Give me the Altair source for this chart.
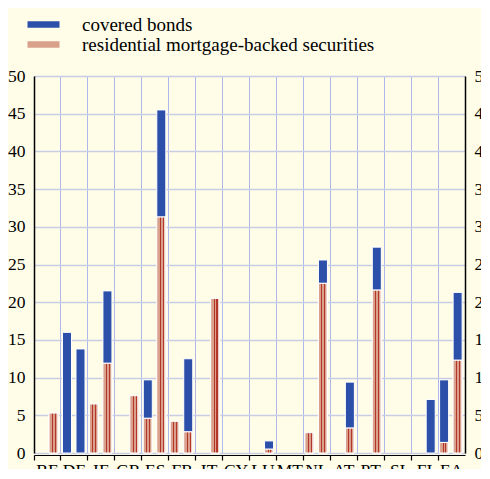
import altair as alt
import pandas as pd

countries = ["BE", "DE", "IE", "GR", "ES", "FR", "IT", "CY", "LU", "MT", "NL", "AT", "PT", "SI", "FI", "EA"]
slots = ["1", "2"]
rmbs_1 = [0, 0, 6.5, 0, 4.6, 4.2, 0, 0, 0, 0, 2.7, 0, 0, 0, 0, 1.4]
cb_1 = [0, 16.0, 0, 0, 5.1, 0, 0, 0, 0, 0, 0, 0, 0, 0, 0, 8.3]
rmbs_2 = [5.3, 0, 11.9, 7.6, 31.3, 2.8, 20.5, 0, 0.5, 0, 22.5, 3.3, 21.6, 0, 0, 12.3]
cb_2 = [0, 13.8, 9.6, 0, 14.2, 9.7, 0, 0, 1.1, 0, 3.1, 6.1, 5.7, 0, 7.1, 9.0]
series_names = ["covered bonds", "residential mortgage-backed securities"]
y_ticks = [0, 5, 10, 15, 20, 25, 30, 35, 40, 45, 50]

rows = []
for i, c in enumerate(countries):
    for slot, rm, cb in (("1", rmbs_1[i], cb_1[i]), ("2", rmbs_2[i], cb_2[i])):
        if rm > 0:
            rows.append({"country": c, "slot": slot, "series": series_names[1], "value": rm, "ord": 0})
        if cb > 0:
            rows.append({"country": c, "slot": slot, "series": series_names[0], "value": cb, "ord": 1})
df = pd.DataFrame(rows)

BLUE = "#2c4fa9"
SALMON = "#d9a08c"
STRIPE = "#b4362a"
LIGHT = "#ecd0c6"
FONT = "Liberation Serif, Times New Roman, Times, DejaVu Serif, serif"

gradient = {
    "gradient": "linear", "x1": 0, "y1": 0, "x2": 1, "y2": 0,
    "stops": [
        {"offset": 0.0, "color": SALMON},
        {"offset": 0.33, "color": SALMON},
        {"offset": 0.33, "color": STRIPE},
        {"offset": 0.45, "color": STRIPE},
        {"offset": 0.45, "color": SALMON},
        {"offset": 0.64, "color": SALMON},
        {"offset": 0.64, "color": STRIPE},
        {"offset": 0.76, "color": STRIPE},
        {"offset": 0.76, "color": SALMON},
        {"offset": 0.84, "color": SALMON},
        {"offset": 0.84, "color": LIGHT},
        {"offset": 1.0, "color": LIGHT},
    ],
}

x_scale = alt.Scale(domain=countries, paddingInner=0, paddingOuter=0)
xo_scale = alt.Scale(domain=slots, paddingInner=0.333, paddingOuter=0.163, align=0.35)
y_scale = alt.Scale(domain=[0, 50], nice=False)

x_enc = alt.X("country:N", scale=x_scale, title=None,
              axis=alt.Axis(labelAngle=0, bandPosition=0, grid=True, gridColor="#afb7eb", gridWidth=1,
                            domainColor="black", domainWidth=1.2, tickColor="black", tickSize=5,
                            tickWidth=1.2, offset=2, labelFont=FONT, labelFontSize=17.5,
                            labelColor="black", labelPadding=1))

base = alt.Chart(df)

bars = base.mark_bar(stroke="white", strokeWidth=1).encode(
    x=x_enc,
    xOffset=alt.XOffset("slot:N", scale=xo_scale),
    y=alt.Y("value:Q", stack="zero", scale=y_scale, title=None,
            axis=alt.Axis(orient="left", values=y_ticks, ticks=False, grid=True, gridColor="#c8cde6",
                          gridWidth=1.6, domainColor="black", domainWidth=1.5, labelFont=FONT,
                          labelFontSize=17.5, labelColor="black", labelPadding=9)),
    fill=alt.Fill("series:N", scale=alt.Scale(domain=series_names, range=[BLUE, SALMON]),
                  legend=alt.Legend(title=None, orient="none", legendX=0, legendY=-61,
                                    symbolType="M-2,-0.4H2V0.4H-2Z", symbolSize=256,
                                    symbolStrokeWidth=0, labelFont=FONT, labelFontSize=19,
                                    labelColor="black", labelOffset=29, padding=0, rowPadding=-1,
                                    labelLimit=400)),
    order=alt.Order("ord:Q"),
)

stripes = base.transform_filter(alt.datum.series == series_names[1]).mark_bar(
    stroke="white", strokeWidth=1
).encode(
    x=alt.X("country:N", scale=x_scale),
    xOffset=alt.XOffset("slot:N", scale=xo_scale),
    y=alt.Y("value:Q", scale=y_scale, axis=None),
    fill=alt.value(gradient),
)

right_axis = base.mark_rule(opacity=0).encode(
    x=alt.X("country:N", scale=x_scale),
    y=alt.Y("value:Q", scale=y_scale, title=None,
            axis=alt.Axis(orient="right", values=y_ticks, ticks=False, grid=False,
                          domainColor="black", domainWidth=1.5, labelFont=FONT, labelFontSize=17.5,
                          labelColor="black", labelPadding=9)),
)

chart = alt.layer(bars, stripes, right_axis).resolve_axis(y="independent").resolve_scale(y="shared").properties(
    width=431, height=377,
    autosize=alt.AutoSizeParams(type="none"),
    padding={"left": 26, "top": 68, "right": 16, "bottom": 16},
    background="#fffde8",
).configure(font=FONT).configure_view(stroke=None)

chart.save("out.html", embed_options={"renderer": "svg", "actions": False})
